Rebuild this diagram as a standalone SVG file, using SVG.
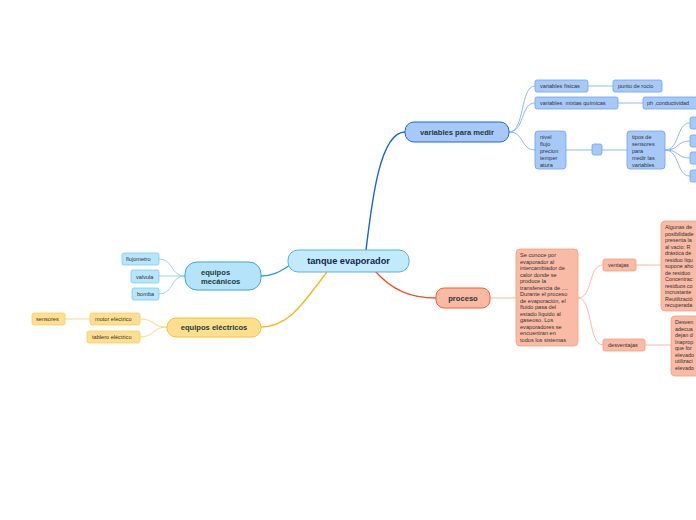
<svg xmlns="http://www.w3.org/2000/svg" width="696" height="520" viewBox="0 0 696 520">
<style>
text{font-family:"Liberation Sans",Arial,sans-serif;fill:#333}
.s{font-size:5.6px}
.t{font-size:5.4px}
.m{font-size:7.6px;font-weight:bold;fill:#1d3a40}
.b{fill:#a7c9f7;stroke:#6fa3ee;stroke-width:0.8}
.o{fill:#f9bba5;stroke:#f3a081;stroke-width:0.8}
.c{fill:#b7e5fb;stroke:#7ccbf0;stroke-width:0.8}
.y{fill:#fddf8f;stroke:#f7cd68;stroke-width:0.8}
.lb{fill:none;stroke:#8db8f2;stroke-width:1}
.lo{fill:none;stroke:#f8b9a1;stroke-width:1}
.lc{fill:none;stroke:#98d5f3;stroke-width:1}
.ly{fill:none;stroke:#fbd984;stroke-width:1}
</style>
<rect width="696" height="520" fill="#fff"/>
<g id="connectors">
<path d="M366,250 C372,200 380,132 405,132" fill="none" stroke="#1766d8" stroke-width="1.4"/>
<path d="M375,271 C392,290 410,298 436,298" fill="none" stroke="#f1532a" stroke-width="1.4"/>
<path d="M290,265 C280,272 272,276 261,276" fill="none" stroke="#2a9bd8" stroke-width="1.4"/>
<path d="M327,272 C305,300 290,327 261,327" fill="none" stroke="#fbb818" stroke-width="1.4"/>
<path class="lb" d="M509,132 C525,132 520,86 535,86"/>
<path class="lb" d="M509,132 C525,132 520,103 535,103"/>
<path class="lb" d="M509,132 C525,132 520,150 535,150"/>
<path class="lb" d="M588,86 L613,86"/>
<path class="lb" d="M618,103 L643,103"/>
<path class="lb" d="M566,150 L592,150"/>
<path class="lb" d="M602,150 L627,150"/>
<path class="lb" d="M665,150 C680,150 676,123 690,123"/>
<path class="lb" d="M665,150 C680,150 676,141 690,141"/>
<path class="lb" d="M665,150 C680,150 676,158 690,158"/>
<path class="lb" d="M665,150 C680,150 676,176 690,176"/>
<path class="lo" d="M490,298 L516,298"/>
<path class="lo" d="M578,298 C593,298 588,265 603,265"/>
<path class="lo" d="M578,298 C593,298 588,345 603,345"/>
<path class="lo" d="M636,265 L661,265"/>
<path class="lo" d="M645,345 L671,345"/>
<path class="lc" d="M185,276 C170,276 174,259 159,259"/>
<path class="lc" d="M185,276 L159,276"/>
<path class="lc" d="M185,276 C170,276 174,294 159,294"/>
<path class="ly" d="M167,327 C152,327 155,319 140,319"/>
<path class="ly" d="M167,327 C152,327 155,337 140,337"/>
<path class="ly" d="M90,319 L65,319"/>
</g>
<g id="center">
<rect x="288" y="250" width="121" height="22" rx="10" fill="#c2eafd" stroke="#5eb0e0" stroke-width="1"/>
<text x="348.5" y="264" text-anchor="middle" style="font-size:9.2px;font-weight:bold;fill:#15264a">tanque evaporador</text>
</g>
<g id="variables-para-medir">
<rect x="405" y="122" width="104" height="20" rx="9" fill="#a7c9f7" stroke="#1766d8" stroke-width="1"/>
<text x="457" y="135" text-anchor="middle" class="m">variables para medir</text>
</g>
<g id="variables-fisicas"><rect class="b" x="535" y="80" width="53" height="12" rx="2"/><text class="s" x="540" y="88">variables físicas</text></g>
<g id="punto-de-rocio"><rect class="b" x="613" y="80" width="49" height="12" rx="2"/><text class="s" x="618" y="88">punto de rocio</text></g>
<g id="variables-mixtas"><rect class="b" x="535" y="97" width="83" height="12" rx="2"/><text class="s" x="540" y="105" xml:space="preserve">variables  mixtas químicas</text></g>
<g id="ph"><rect class="b" x="643" y="97" width="60" height="12" rx="2"/><text class="t" x="647" y="105">ph ,conductividad</text></g>
<g id="nivel"><rect class="b" x="535" y="131" width="31" height="38" rx="3"/>
<text class="s" x="540" y="139">nivel</text><text class="s" x="540" y="146">flujo</text><text class="s" x="540" y="153">precion</text><text class="s" x="540" y="160">temper</text><text class="s" x="540" y="167">atura</text></g>
<g id="empty"><rect class="b" x="592" y="144" width="10" height="11" rx="2"/></g>
<g id="tipos"><rect class="b" x="627" y="131" width="38" height="38" rx="3"/>
<text class="s" x="632" y="139">tipos de</text><text class="s" x="632" y="146">sensores</text><text class="s" x="632" y="153">para</text><text class="s" x="632" y="160">medir las</text><text class="s" x="632" y="167">variables</text></g>
<g id="tipo1"><rect class="b" x="690" y="117" width="20" height="12" rx="2"/></g>
<g id="tipo2"><rect class="b" x="690" y="135" width="20" height="12" rx="2"/></g>
<g id="tipo3"><rect class="b" x="690" y="152" width="20" height="12" rx="2"/></g>
<g id="tipo4"><rect class="b" x="690" y="170" width="20" height="12" rx="2"/></g>
<g id="proceso">
<rect x="436" y="288" width="54" height="20" rx="8" fill="#f9b9a3" stroke="#f0603a" stroke-width="1"/>
<text x="463" y="301" text-anchor="middle" class="m">proceso</text>
</g>
<g id="proceso-texto"><rect class="o" x="516" y="249" width="62" height="97" rx="4"/>
<text class="s" x="520" y="257">Se conoce por</text>
<text class="s" x="520" y="263.5">evaporador al</text>
<text class="s" x="520" y="270">intercambiador de</text>
<text class="s" x="520" y="276.5">calor donde se</text>
<text class="s" x="520" y="283">produce la</text>
<text class="s" x="520" y="289.5">transferencia de ....</text>
<text class="s" x="520" y="296">Durante el proceso</text>
<text class="s" x="520" y="302.5">de evaporación, el</text>
<text class="s" x="520" y="309">fluido pasa del</text>
<text class="s" x="520" y="315.5">estado líquido al</text>
<text class="s" x="520" y="322">gaseoso. Los</text>
<text class="s" x="520" y="328.5">evaporadores se</text>
<text class="s" x="520" y="335">encuentran en</text>
<text class="s" x="520" y="341.5">todos los sistemas</text></g>
<g id="ventajas"><rect class="o" x="603" y="259" width="33" height="12" rx="2"/><text class="s" x="608" y="267">ventajas</text></g>
<g id="desventajas"><rect class="o" x="603" y="339" width="42" height="12" rx="2"/><text class="s" x="608" y="347">desventajas</text></g>
<g id="ventajas-texto"><rect class="o" x="661" y="221" width="60" height="90" rx="4"/>
<text class="t" x="665" y="229">Algunas de</text>
<text class="t" x="665" y="235.5">posibilidade</text>
<text class="t" x="665" y="242">presenta la</text>
<text class="t" x="665" y="248.5">al vacío: R</text>
<text class="t" x="665" y="255">drástica de</text>
<text class="t" x="665" y="261.5">residuo líqu</text>
<text class="t" x="665" y="268">supone aho</text>
<text class="t" x="665" y="274.5">de residuo</text>
<text class="t" x="665" y="281">Concentrac</text>
<text class="t" x="665" y="287.5">residuos co</text>
<text class="t" x="665" y="294">incrustante</text>
<text class="t" x="665" y="300.5">Reutilizació</text>
<text class="t" x="665" y="307">recuperada</text></g>
<g id="desventajas-texto"><rect class="o" x="671" y="316" width="50" height="60" rx="4"/>
<text class="t" x="675" y="324">Desven</text>
<text class="t" x="675" y="330.5">adecua</text>
<text class="t" x="675" y="337">dejan d</text>
<text class="t" x="675" y="343.5">Inaprop</text>
<text class="t" x="675" y="350">que for</text>
<text class="t" x="675" y="356.5">elevado</text>
<text class="t" x="675" y="363">utilizaci</text>
<text class="t" x="675" y="369.5">elevado</text></g>
<g id="equipos-mecanicos">
<rect x="185" y="262" width="76" height="28" rx="12" fill="#b5e4fa" stroke="#39a7dd" stroke-width="1"/>
<text x="201" y="274.5" class="m">equipos</text><text x="201" y="283.5" class="m">mecánicos</text>
</g>
<g id="flujometro"><rect class="c" x="122" y="253" width="37" height="12" rx="2"/><text class="s" x="126" y="261">flujometro</text></g>
<g id="valvula"><rect class="c" x="131" y="270" width="28" height="13" rx="2"/><text class="s" x="136" y="279">valvula</text></g>
<g id="bomba"><rect class="c" x="132" y="288" width="27" height="12" rx="2"/><text class="s" x="137" y="296">bomba</text></g>
<g id="equipos-electricos">
<rect x="167" y="318" width="94" height="19" rx="9" fill="#fddf8e" stroke="#f7c131" stroke-width="1"/>
<text x="214" y="330" text-anchor="middle" class="m">equipos eléctricos</text>
</g>
<g id="motor"><rect class="y" x="90" y="313" width="50" height="12" rx="2"/><text class="s" x="95" y="321">motor electrico</text></g>
<g id="tablero"><rect class="y" x="87" y="331" width="53" height="12" rx="2"/><text class="s" x="92" y="339">tablero eléctrico</text></g>
<g id="sensores"><rect class="y" x="32" y="313" width="33" height="12" rx="2"/><text class="s" x="36" y="321">sensores</text></g>
</svg>
